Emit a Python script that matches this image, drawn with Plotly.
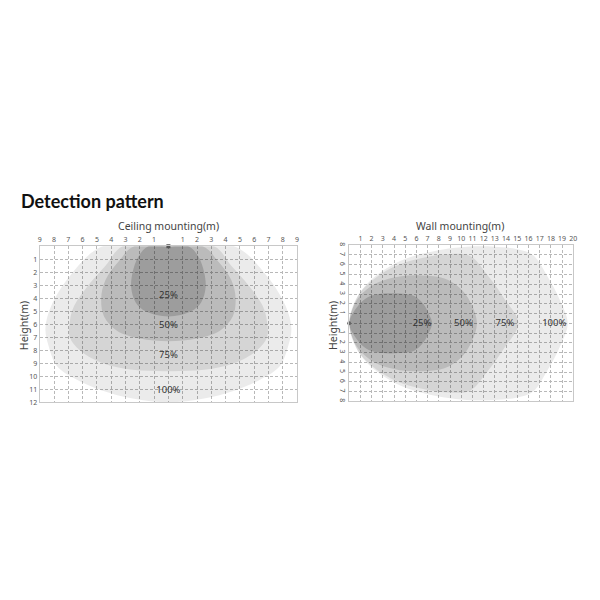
import plotly.graph_objects as go

# ceiling mounting: right half outlines (x m from centre, depth m below sensor)
ceil_levels = ["100%", "75%", "50%", "25%"]
ceil_x = {
    "100%": [0, 4.6, 6.9, 8.2, 8.6, 8.4, 7.8, 6.5, 4.6, 2.5, 0],
    "75%": [0, 3.2, 4.4, 5.6, 6.6, 6.9, 6.9, 6.2, 4.6, 2.5, 0],
    "50%": [0, 2.4, 3.5, 4.4, 4.7, 4.5, 3.6, 2.0, 0],
    "25%": [0, 1.4, 2.1, 2.5, 2.6, 2.3, 1.6, 0],
}
ceil_y = {
    "100%": [0, 0, 2.3, 4.6, 6.3, 7.6, 9.2, 10.2, 11.1, 11.7, 12],
    "75%": [0, 0, 1.5, 3.0, 4.6, 5.8, 7.0, 8.0, 9.0, 9.5, 9.6],
    "50%": [0, 0, 1.2, 2.6, 4.0, 5.4, 6.5, 7.1, 7.3],
    "25%": [0, 0, 0.8, 2.0, 3.2, 4.3, 5.0, 5.4],
}
ceil_label_y = [11.1, 8.4, 6.1, 3.8]

# wall mounting: upper half outlines (distance m, height m)
wall_x = {
    "100%": [0, 0.4, 1.4, 2.9, 4.6, 6.4, 8.5, 10.5, 13, 15, 16.4, 17.7, 18.8, 19.5],
    "75%": [0, 0.3, 1.0, 2.4, 4.2, 6.5, 9, 10.8, 12.3, 13.8, 15.1],
    "50%": [0, 0.4, 1.3, 2.6, 4.5, 6.5, 8.5, 9.9, 10.8, 11.4],
    "25%": [0, 0.8, 1.7, 3, 4.5, 5.8, 6.6, 7.1, 7.4],
}
wall_y = {
    "100%": [0, 2, 3.8, 5.3, 6.4, 7.1, 7.6, 7.85, 7.85, 7.6, 7.0, 4.8, 2.4, 0],
    "75%": [0, 1.5, 3.2, 4.7, 5.9, 6.7, 7.1, 6.9, 5.0, 2.6, 0],
    "50%": [0, 1.8, 3.2, 4.2, 4.8, 4.9, 4.6, 3.6, 2.2, 0],
    "25%": [0, 1.8, 2.7, 3.05, 3.05, 2.8, 2.0, 1.0, 0],
}
wall_label_x = [18.3, 13.9, 10.2, 6.5]

fills = ["rgba(0,0,0,0.08)", "rgba(0,0,0,0.09)", "rgba(0,0,0,0.12)", "rgba(0,0,0,0.16)"]

# page body has an 8px margin, so place things relative to the screenshot
OFF = 8
def px_x(p):
    return (p - OFF) / 600

def px_y(p):
    return 1 - (p - OFF) / 600

fig = go.Figure()

for lv, fc in zip(ceil_levels, fills):
    hx, hy = ceil_x[lv], ceil_y[lv]
    xs = hx + [-v for v in reversed(hx)][1:]
    ys = hy + list(reversed(hy))[1:]
    fig.add_trace(go.Scatter(x=xs, y=ys, fill="toself", fillcolor=fc, mode="lines",
                             line=dict(width=0, shape="spline"), hoverinfo="skip",
                             xaxis="x", yaxis="y", showlegend=False))

for lv, fc in zip(ceil_levels, fills):
    hx, hy = wall_x[lv], wall_y[lv]
    xs = hx + list(reversed(hx))[1:]
    ys = hy + [-v for v in reversed(hy)][1:]
    fig.add_trace(go.Scatter(x=xs, y=ys, fill="toself", fillcolor=fc, mode="lines",
                             line=dict(width=0, shape="spline"), hoverinfo="skip",
                             xaxis="x2", yaxis="y2", showlegend=False))

fig.add_trace(go.Scatter(x=[0] * 4, y=ceil_label_y, text=ceil_levels, mode="text",
                         textfont=dict(size=9.5, color="#333"), xaxis="x", yaxis="y",
                         showlegend=False))
fig.add_trace(go.Scatter(x=wall_label_x, y=[0] * 4, text=ceil_levels, mode="text",
                         textfont=dict(size=9.5, color="#333"), xaxis="x2", yaxis="y2",
                         showlegend=False))

# sensors
fig.add_trace(go.Scatter(x=[0], y=[0], mode="markers", cliponaxis=False,
                         marker=dict(symbol="square", size=4, color="#555"),
                         xaxis="x", yaxis="y", showlegend=False))
fig.add_trace(go.Scatter(x=[0], y=[0], mode="markers", cliponaxis=False,
                         marker=dict(symbol="circle", size=4, color="#666"),
                         xaxis="x2", yaxis="y2", showlegend=False))

tickfont = dict(size=7, color="#555")
common = dict(showgrid=True, gridcolor="#b8b8b8", griddash="3px,2px", gridwidth=0.7,
              showline=True, linecolor="#c8c8c8", linewidth=1, mirror=True,
              zeroline=False, ticks="", tickfont=tickfont, fixedrange=True)

cx = list(range(-9, 10))
wx = list(range(0, 21))
cy = list(range(0, 13))
wy = list(range(-8, 9))

fig.update_layout(
    width=600, height=600, margin=dict(l=0, r=0, t=0, b=0),
    paper_bgcolor="white", plot_bgcolor="white",
    font=dict(family="Noto Sans"),
    xaxis=dict(domain=[px_x(38), px_x(298)], range=[-9, 9], side="top",
               tickvals=cx, ticktext=["" if v == 0 else str(abs(v)) for v in cx],
               anchor="y", **common),
    yaxis=dict(domain=[px_y(404), px_y(246)], range=[12, 0], tickvals=cy,
               ticktext=["" if v == 0 else str(v) for v in cy], anchor="x", **common),
    xaxis2=dict(domain=[px_x(350.6), px_x(577)], range=[0, 20], side="top",
                tickvals=wx, ticktext=["" if v == 0 else str(v) for v in wx],
                anchor="y2", **common),
    yaxis2=dict(domain=[px_y(403), px_y(245)], range=[-8, 8], tickvals=wy, tickangle=90,
                ticktext=["" if v == 0 else str(abs(v)) for v in wy], anchor="x2", **common),
    annotations=[
        dict(text="<b>Detection pattern</b>", x=px_x(17), y=px_y(200),
             xanchor="left", font=dict(family="Lato", size=18, color="#111")),
        dict(text="Ceiling mounting(m)", x=px_x(168), y=px_y(226),
             xanchor="center", font=dict(size=10.5, color="#444")),
        dict(text="Wall mounting(m)", x=px_x(463), y=px_y(226),
             xanchor="center", font=dict(size=10.5, color="#444")),
        dict(text="Height(m)", x=px_x(22), y=px_y(326), textangle=-90,
             xanchor="center", font=dict(size=10.5, color="#444")),
        dict(text="Height(m)", x=px_x(335), y=px_y(326), textangle=-90,
             xanchor="center", font=dict(size=10.5, color="#444")),
    ],
)
fig.update_annotations(xref="paper", yref="paper", showarrow=False, yanchor="middle")

fig.write_html("out.html")
